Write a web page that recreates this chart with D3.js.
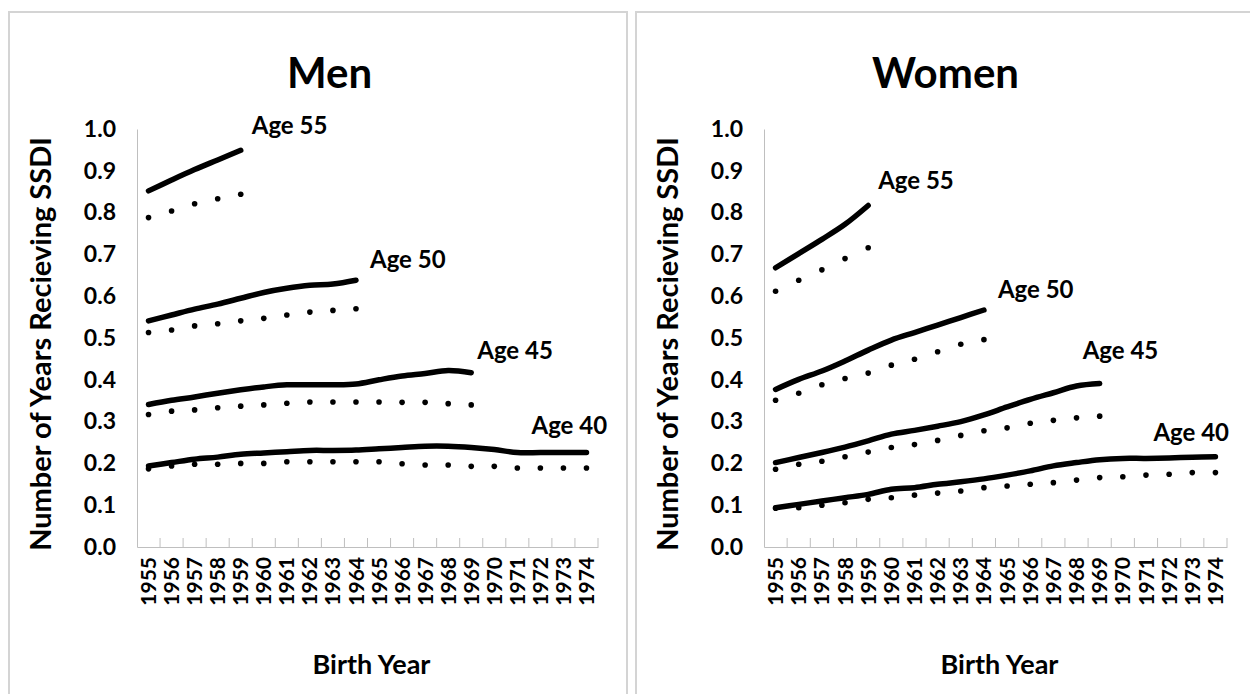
<!DOCTYPE html>
<html>
<head>
<meta charset="utf-8">
<script src="https://cdn.jsdelivr.net/npm/d3@7"></script>
<style>
  body { margin: 0; background: #fff; }
  svg { font-family: Lato, 'Open Sans', sans-serif; font-weight: 700; }
</style>
</head>
<body>
<div id="chart"></div>
<script>
// Birth year categories
var years = [1955, 1956, 1957, 1958, 1959, 1960, 1961, 1962, 1963, 1964,
             1965, 1966, 1967, 1968, 1969, 1970, 1971, 1972, 1973, 1974];
var yTicks = [0, 0.1, 0.2, 0.3, 0.4, 0.5, 0.6, 0.7, 0.8, 0.9, 1.0];
var ageLabels = ['Age 55', 'Age 50', 'Age 45', 'Age 40'];

// Men - solid = actual, dots = counterfactual
var men55 = [0.852, 0.878, 0.903, 0.926, 0.949];
var men55dot = [0.788, 0.804, 0.821, 0.833, 0.844];
var men50 = [0.541, 0.555, 0.569, 0.581, 0.595, 0.609, 0.619, 0.626, 0.629, 0.638];
var men50dot = [0.513, 0.519, 0.529, 0.534, 0.541, 0.547, 0.555, 0.562, 0.566, 0.570];
var men45 = [0.341, 0.351, 0.359, 0.368, 0.376, 0.383, 0.388, 0.388, 0.388, 0.390,
             0.400, 0.409, 0.415, 0.422, 0.417];
var men45dot = [0.317, 0.325, 0.328, 0.333, 0.337, 0.340, 0.344, 0.347, 0.347, 0.347,
                0.347, 0.346, 0.346, 0.343, 0.340];
var men40 = [0.194, 0.202, 0.210, 0.215, 0.222, 0.225, 0.228, 0.231, 0.231, 0.232,
             0.235, 0.238, 0.241, 0.241, 0.238, 0.233, 0.226, 0.226, 0.226, 0.226];
var men40dot = [0.187, 0.194, 0.198, 0.198, 0.200, 0.200, 0.204, 0.204, 0.204, 0.204,
                0.204, 0.199, 0.196, 0.196, 0.193, 0.193, 0.189, 0.189, 0.189, 0.189];

// Women
var women55 = [0.668, 0.702, 0.736, 0.772, 0.817];
var women55dot = [0.612, 0.638, 0.663, 0.690, 0.716];
var women50 = [0.377, 0.401, 0.421, 0.445, 0.471, 0.495, 0.513, 0.531, 0.549, 0.567];
var women50dot = [0.351, 0.368, 0.388, 0.403, 0.416, 0.435, 0.449, 0.467, 0.485, 0.496];
var women45 = [0.202, 0.214, 0.226, 0.239, 0.254, 0.270, 0.279, 0.289, 0.300, 0.316,
               0.335, 0.353, 0.369, 0.385, 0.391];
var women45dot = [0.186, 0.198, 0.205, 0.216, 0.227, 0.238, 0.245, 0.255, 0.267, 0.278,
                  0.285, 0.296, 0.303, 0.309, 0.313];
var women40 = [0.094, 0.102, 0.110, 0.118, 0.126, 0.138, 0.142, 0.150, 0.156, 0.163,
               0.172, 0.182, 0.194, 0.202, 0.209, 0.212, 0.212, 0.213, 0.215, 0.216];
var women40dot = [0.093, 0.094, 0.100, 0.106, 0.114, 0.118, 0.124, 0.129, 0.134, 0.142,
                  0.146, 0.150, 0.154, 0.160, 0.166, 0.168, 0.172, 0.174, 0.178, 0.178];

var svg = d3.select('#chart')
    .append('svg')
    .attr('width', 1250)
    .attr('height', 694);

//Panel layout
var panels = [
    {title: 'Men', titleShift: -38, frame: [9, 12, 618, 700], x0: 137, x1: 598,
     solid: [men55, men50, men45, men40], dots: [men55dot, men50dot, men45dot, men40dot],
     labelOffsets: [[11, -16], [14, -12], [6, -14], [-55, -19]]},
    {title: 'Women', titleShift: -50, frame: [636, 12, 630, 700], x0: 764, x1: 1227,
     solid: [women55, women50, women45, women40], dots: [women55dot, women50dot, women45dot, women40dot],
     labelOffsets: [[10, -16], [14, -12], [-17, -25], [-62, -16]]}
];

panels.forEach(function(p){
    var g = svg.append('g');

    g.append('rect')
        .attr('x', p.frame[0])
        .attr('y', p.frame[1])
        .attr('width', p.frame[2])
        .attr('height', p.frame[3])
        .style('fill', '#fff')
        .style('stroke', '#d4d4d4')
        .style('stroke-width', 2);

    var x = d3.scaleBand()
        .domain(years)
        .range([p.x0, p.x1]);
    var y = d3.scaleLinear()
        .domain([0, 1])
        .range([547, 129]);
    var cx = function(i){ return x(years[i]) + x.bandwidth() / 2; };

    //Y axis
    var yAxis = g.append('g')
        .attr('transform', 'translate(' + p.x0 + ',0)')
        .call(d3.axisLeft(y).tickValues(yTicks).tickFormat(d3.format('.1f')).tickSize(0).tickPadding(21));
    yAxis.select('.domain').style('stroke', '#bfbfbf');
    yAxis.selectAll('text')
        .style('font-size', '23px')
        .style('font-family', 'Lato, sans-serif')
        .style('font-weight', 700)
        .attr('fill', '#000');

    //X axis, ticks between categories
    var xAxis = g.append('g')
        .attr('transform', 'translate(0,547)')
        .call(d3.axisBottom(x).tickSize(0).tickPadding(10));
    xAxis.select('.domain').style('stroke', '#bfbfbf');
    xAxis.selectAll('text')
        .style('font-size', '21px')
        .style('font-family', 'Lato, sans-serif')
        .style('font-weight', 700)
        .attr('fill', '#000')
        .attr('transform', 'rotate(-90)')
        .attr('text-anchor', 'end')
        .attr('dy', '0.36em')
        .attr('x', -10)
        .attr('y', 0);
    g.selectAll('.sep')
        .data(years.slice(1))
        .enter()
        .append('line')
        .attr('x1', function(d){ return x(d); })
        .attr('x2', function(d){ return x(d); })
        .attr('y1', 538)
        .attr('y2', 547)
        .style('stroke', '#bfbfbf');
    g.append('line')
        .attr('x1', p.x1).attr('x2', p.x1)
        .attr('y1', 538).attr('y2', 547)
        .style('stroke', '#bfbfbf');

    var line = d3.line()
        .x(function(d, i){ return cx(i); })
        .y(function(d){ return y(d); })
        .curve(d3.curveCatmullRom.alpha(0.5));

    //Solid series
    g.selectAll('.solid')
        .data(p.solid)
        .enter()
        .append('path')
        .attr('d', line)
        .style('fill', 'none')
        .style('stroke', '#000')
        .style('stroke-width', 5.5)
        .style('stroke-linecap', 'round');

    //Dotted series
    p.dots.forEach(function(s){
        g.selectAll(null)
            .data(s)
            .enter()
            .append('circle')
            .attr('cx', function(d, i){ return cx(i); })
            .attr('cy', function(d){ return y(d); })
            .attr('r', 2.8)
            .style('fill', '#000');
    });

    //Age labels next to line ends
    g.selectAll('.age')
        .data(p.solid)
        .enter()
        .append('text')
        .attr('x', function(d, i){ return cx(d.length - 1) + p.labelOffsets[i][0]; })
        .attr('y', function(d, i){ return y(d[d.length - 1]) + p.labelOffsets[i][1]; })
        .style('font-size', '24px')
        .text(function(d, i){ return ageLabels[i]; });

    var mid = (p.x0 + p.x1) / 2;
    g.append('text')
        .attr('x', mid + p.titleShift)
        .attr('y', 88)
        .attr('text-anchor', 'middle')
        .style('font-size', '42px')
        .text(p.title);

    g.append('text')
        .attr('x', mid + 4)
        .attr('y', 674)
        .attr('text-anchor', 'middle')
        .style('font-size', '27px')
        .text('Birth Year');

    g.append('text')
        .attr('transform', 'translate(' + (p.x0 - 86) + ',' + 344 + ') rotate(-90)')
        .attr('text-anchor', 'middle')
        .style('font-size', '29px')
        .text('Number of Years Recieving SSDI');
});
</script>
</body>
</html>
